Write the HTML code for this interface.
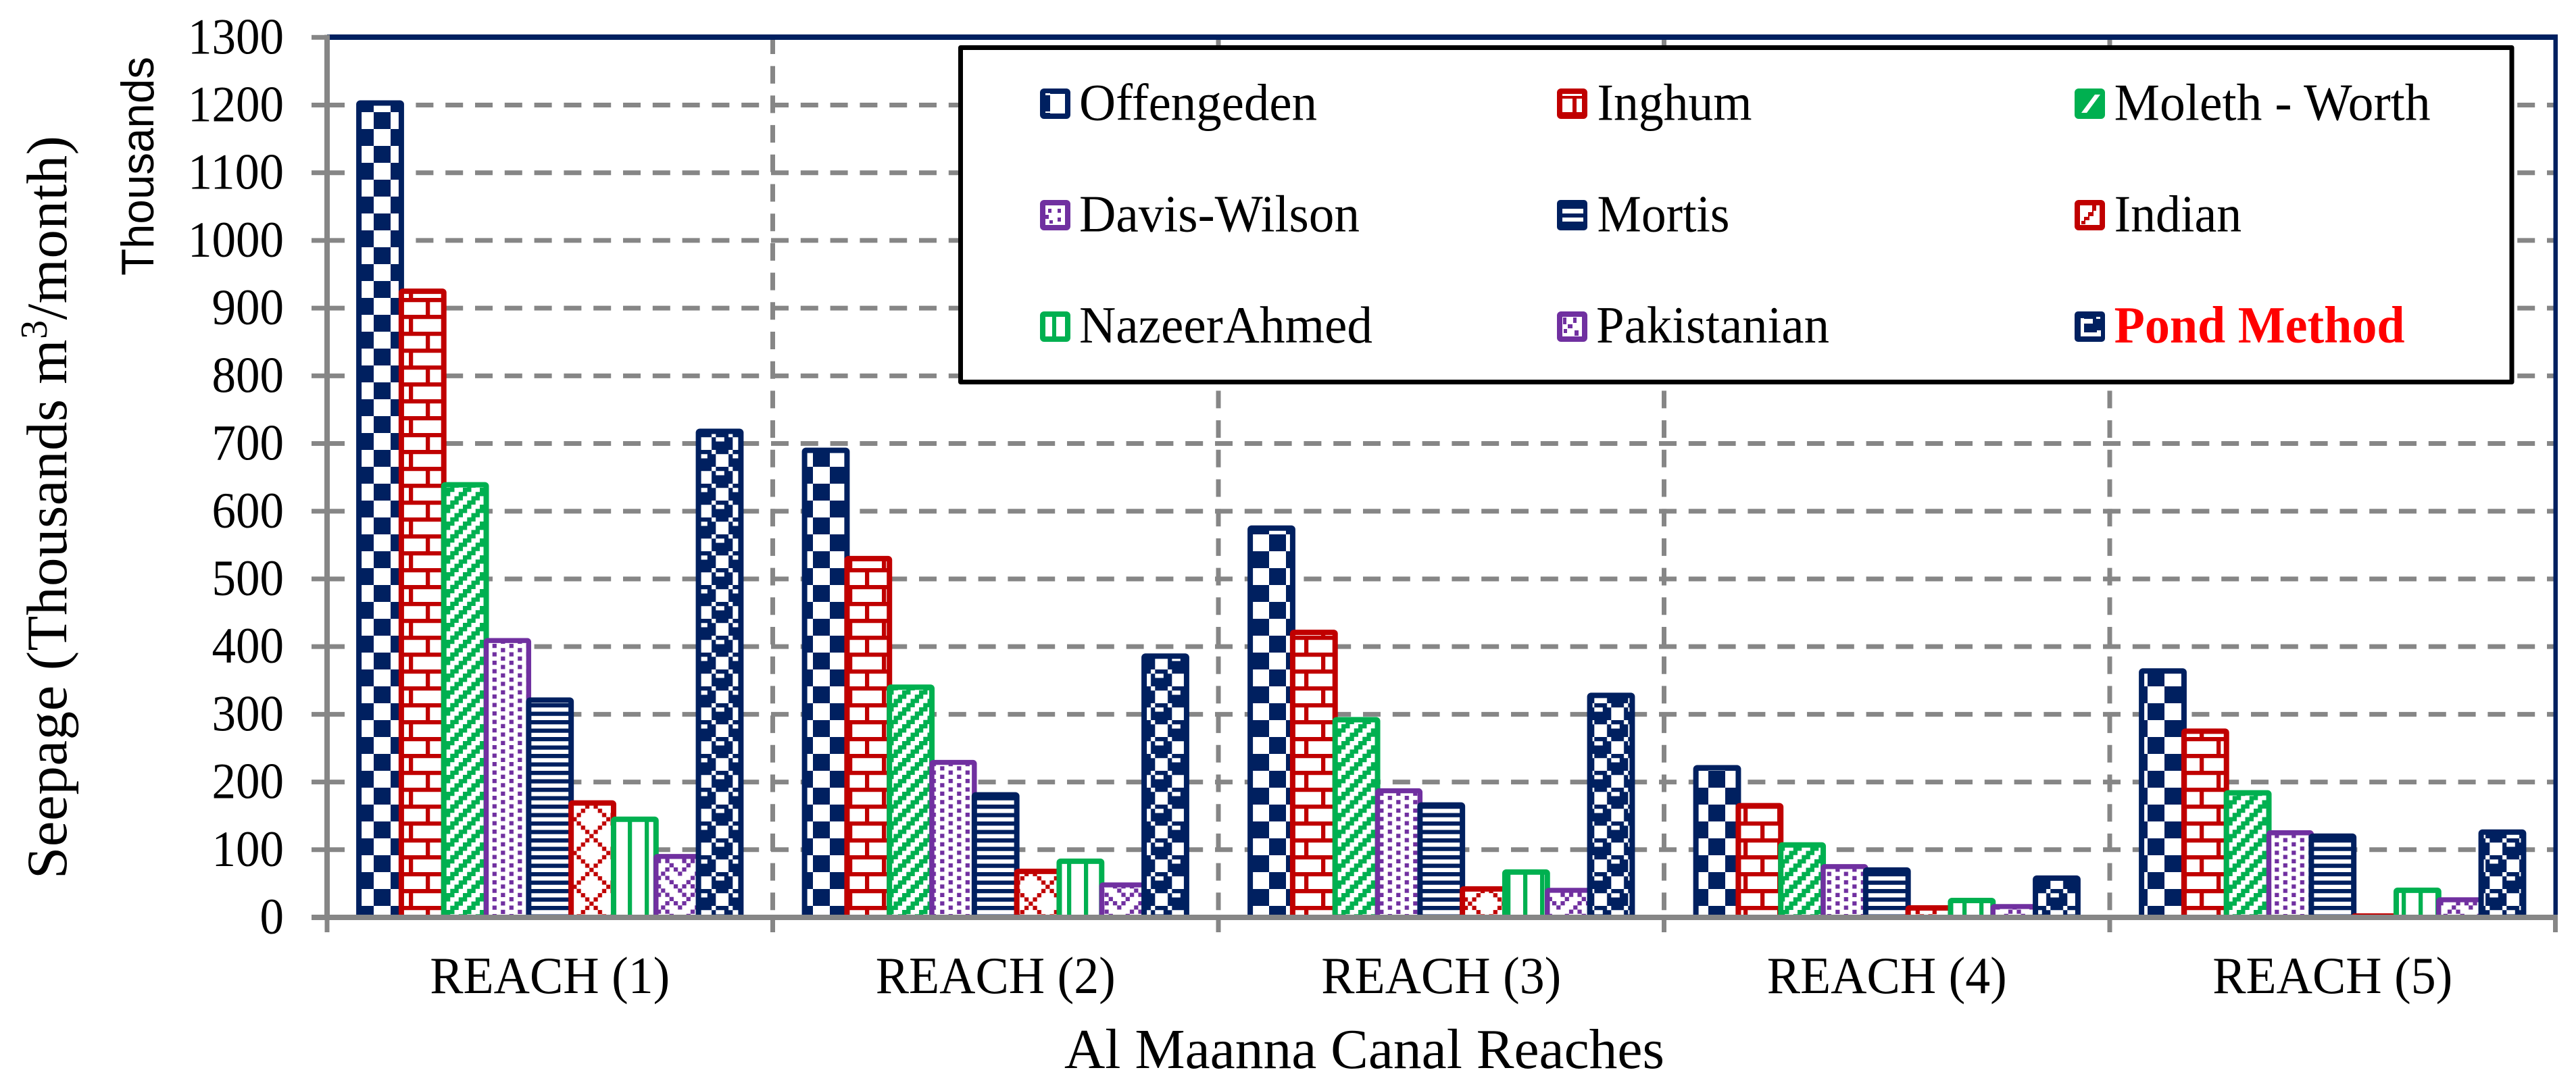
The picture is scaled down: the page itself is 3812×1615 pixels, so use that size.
<!DOCTYPE html>
<html lang="en">
<head>
<meta charset="utf-8">
<title>Seepage by Al Maanna Canal Reach</title>
<style>
html,body{margin:0;padding:0;background:#fff}
svg{display:block}
text{font-family:"Liberation Serif",serif;fill:#000}
</style>
</head>
<body>
<svg id="chart" xmlns="http://www.w3.org/2000/svg" width="3812" height="1615" viewBox="0 0 3812 1615">
  <defs id="defs"></defs>
  <rect x="0" y="0" width="3812" height="1615" fill="#fff"/>
  <g id="grid"></g>
  <rect x="484" y="51" width="3300.5" height="8" fill="#002060"/>
  <rect x="3778.5" y="51" width="6.5" height="1307" fill="#002060"/>
  <g id="bars"></g>
  <g id="axes"></g>
  <g id="labels"></g>
  <text x="1575" y="1581" font-size="83.5" textLength="888" lengthAdjust="spacingAndGlyphs">Al Maanna Canal Reaches</text>
  <text transform="translate(98,1301) rotate(-90)" font-size="85" textLength="1100" lengthAdjust="spacing">Seepage (Thousands m<tspan font-size="56" dy="-29">3</tspan><tspan dy="29">/month)</tspan></text>
  <text transform="translate(227,408) rotate(-90)" font-size="68" textLength="324" lengthAdjust="spacingAndGlyphs" style="font-family:'Liberation Sans',sans-serif">Thousands</text>

  <g>
    <rect x="1421.5" y="70.5" width="2295.5" height="495" fill="#fff" stroke="#000" stroke-width="7" stroke-linejoin="round"/>

    <g>
      <g transform="translate(1539,131)">
        <rect x="4" y="4" width="37" height="37" rx="2" fill="#fff" stroke="#002060" stroke-width="8"/>
        <rect x="8" y="8" width="7" height="29" fill="#002060"/>
        <rect x="8" y="7" width="7" height="3" fill="#fff"/>
        <rect x="8" y="34" width="7" height="2" fill="#fff"/>
      </g>
      <text x="1597" y="177.5" font-size="77" textLength="352" lengthAdjust="spacingAndGlyphs">Offengeden</text>
    </g>
    <g>
      <g transform="translate(2304,131)">
        <rect x="4" y="4" width="37" height="37" rx="2" fill="#fff" stroke="#c00000" stroke-width="8"/>
        <rect x="8" y="11" width="29" height="4" fill="#c00000"/>
        <rect x="23" y="15" width="6" height="20" fill="#c00000"/>
        <rect x="8" y="35" width="29" height="3" fill="#c00000"/>
      </g>
      <text x="2363.5" y="177.5" font-size="77" textLength="229" lengthAdjust="spacingAndGlyphs">Inghum</text>
    </g>
    <g>
      <g transform="translate(3070,131)">
        <rect x="4" y="4" width="37" height="37" rx="2" fill="#00b050" stroke="#00b050" stroke-width="8"/>
        <polygon points="10,36 18,36 38,9 30,9" fill="#fff"/>
      </g>
      <text x="3128.6" y="177.5" font-size="77" textLength="468" lengthAdjust="spacingAndGlyphs">Moleth - Worth</text>
    </g>

    <g>
      <g transform="translate(1539,296)">
        <rect x="4" y="4" width="37" height="37" rx="2" fill="#fff" stroke="#7030a0" stroke-width="8"/>
        <rect x="12" y="13" width="5" height="6" fill="#7030a0"/>
        <rect x="26" y="13" width="5" height="6" fill="#7030a0"/>
        <rect x="8" y="22" width="5" height="6" fill="#7030a0"/>
        <rect x="26" y="26" width="5" height="6" fill="#7030a0"/>
        <rect x="14" y="30" width="5" height="5" fill="#7030a0"/>
      </g>
      <text x="1597" y="342.5" font-size="77" textLength="415" lengthAdjust="spacingAndGlyphs">Davis-Wilson</text>
    </g>
    <g>
      <g transform="translate(2304,296)">
        <rect x="0" y="0" width="45" height="45" rx="5" fill="#002060"/>
        <rect x="8" y="13" width="31" height="7" fill="#fff"/>
        <rect x="8" y="26" width="31" height="6" fill="#fff"/>
      </g>
      <text x="2363.5" y="342.5" font-size="77" textLength="196" lengthAdjust="spacingAndGlyphs">Mortis</text>
    </g>
    <g>
      <g transform="translate(3070,296)">
        <rect x="4" y="4" width="37" height="37" rx="2" fill="#fff" stroke="#c00000" stroke-width="8"/>
        <polygon points="26,8 32,8 32,16 28,16 28,24 22,24 22,30 16,30 16,36 10,36 10,31 14,31 14,25 20,25 20,18 26,18" fill="#c00000"/>
      </g>
      <text x="3128.6" y="342.5" font-size="77" textLength="188.5" lengthAdjust="spacingAndGlyphs">Indian</text>
    </g>

    <g>
      <g transform="translate(1539,461)">
        <rect x="4" y="4" width="37" height="37" rx="2" fill="#fff" stroke="#00b050" stroke-width="8"/>
        <rect x="18" y="6" width="6" height="31" fill="#00b050"/>
      </g>
      <text x="1597" y="507" font-size="77" textLength="434" lengthAdjust="spacingAndGlyphs">NazeerAhmed</text>
    </g>
    <g>
      <g transform="translate(2304,461)">
        <rect x="4" y="4" width="37" height="37" rx="2" fill="#fff" stroke="#7030a0" stroke-width="8"/>
        <rect x="9" y="9" width="5" height="10" fill="#7030a0"/>
        <rect x="24" y="9" width="5" height="8" fill="#7030a0"/>
        <rect x="16" y="19" width="7" height="6" fill="#7030a0"/>
        <rect x="10" y="26" width="5" height="6" fill="#7030a0"/>
        <rect x="26" y="28" width="6" height="8" fill="#7030a0"/>
      </g>
      <text x="2362" y="507" font-size="77" textLength="345" lengthAdjust="spacingAndGlyphs">Pakistanian</text>
    </g>
    <g>
      <g transform="translate(3070,461)">
        <rect x="0" y="0" width="45" height="45" rx="5" fill="#002060"/>
        <rect x="14" y="11" width="13" height="7" fill="#fff"/>
        <rect x="9" y="10" width="5" height="27" fill="#fff"/>
        <rect x="9" y="31" width="30" height="6" fill="#fff"/>
        <rect x="33" y="28" width="6" height="9" fill="#fff"/>
        <rect x="32" y="8" width="6" height="3" fill="#fff"/>
      </g>
      <text x="3128.6" y="507" font-size="77" font-weight="bold" textLength="430" lengthAdjust="spacingAndGlyphs" style="fill:#ff0000">Pond Method</text>
    </g>
  </g>
</svg>

<script>
// ---- chart data (thousands of m3/month) ----
const categories = ["REACH (1)", "REACH (2)", "REACH (3)", "REACH (4)", "REACH (5)"];
const yTicks = [0, 100, 200, 300, 400, 500, 600, 700, 800, 900, 1000, 1100, 1200, 1300];
const offengeden = [1203, 690, 575, 221, 364];
const inghum = [925, 530, 421, 165, 275];
const molethWorth = [639, 340, 292, 107, 184];
const davisWilson = [409, 229, 187, 75, 125];
const mortis = [321, 181, 166, 70, 120];
const indian = [169, 68, 42, 14, 2];
const nazeerAhmed = [145, 83, 67, 25, 40];
const pakistanian = [90, 48, 40, 16, 26];
const pondMethod = [718, 386, 328, 58, 126];

const seriesNames = ["offengeden", "inghum", "moleth-worth", "davis-wilson", "mortis", "indian", "nazeerahmed", "pakistanian", "pond-method"];
const seriesValues = [offengeden, inghum, molethWorth, davisWilson, mortis, indian, nazeerAhmed, pakistanian, pondMethod];
const seriesColors = ["#002060", "#c00000", "#00b050", "#7030a0", "#002060", "#c00000", "#00b050", "#7030a0", "#002060"];

// ---- axis functions ----
const NS = "http://www.w3.org/2000/svg";
const PLOT_LEFT = 484, PLOT_BOTTOM = 1358, CAT_W = 659.5, PX_PER_UNIT = 1.00208, GAP_BARS = 1.5;
const barPitch = CAT_W / (seriesValues.length + GAP_BARS);
function yScale(v) { return PLOT_BOTTOM - v * PX_PER_UNIT; }
function catLeft(c) { return PLOT_LEFT + c * CAT_W; }
function barLeft(c, s) { return catLeft(c) + barPitch * (GAP_BARS / 2 + s); }

function mk(tag, attrs, parent) {
  const el = document.createElementNS(NS, tag);
  for (const k in attrs) el.setAttribute(k, attrs[k]);
  parent.appendChild(el);
  return el;
}

// ---- hatch patterns, anchored to the page as in the source image ----
const defs = document.getElementById("defs");
const UNIT = 6.25;
function pattern(id, x, y, w, h, color, bitmap, extras) {
  const p = mk("pattern", { id: id, patternUnits: "userSpaceOnUse", x: x, y: y, width: w, height: h }, defs);
  mk("rect", { x: 0, y: 0, width: w, height: h, fill: "#fff" }, p);
  let d = "";
  if (bitmap) {
    bitmap.forEach(function (row, r) {
      let c = 0;
      while (c < row.length) {
        if (row[c] === "1") {
          let e = c;
          while (e < row.length && row[e] === "1") e++;
          d += "M" + (c * UNIT) + " " + (r * UNIT) + "h" + ((e - c) * UNIT) + "v" + UNIT + "h" + (-(e - c) * UNIT) + "z";
          c = e;
        } else c++;
      }
    });
  }
  if (extras) d += extras;
  mk("path", { d: d, fill: color }, p);
}
pattern("p0", 3, 16, 50, 50, "#002060", null, "M0 0h25v25h-25zM25 25h25v25h-25z");
pattern("p1", 0, 0, 50, 50, "#c00000", null,
  "M0 16h50v6.25h-50zM0 41h50v6.25h-50zM5 22h6.25v19h-6.25zM30 47h6.25v3h-6.25zM30 0h6.25v16h-6.25z");
pattern("p2", 10, 22, 25, 25, "#00b050", ["1100", "1001", "0011", "0110"]);
pattern("p3", 3.7, 3, 25, 25, "#7030a0", ["1000", "0010", "1000", "0010"]);
pattern("p4", 0, 3.5, 12.5, 12.5, "#002060", ["11", "00"]);
pattern("p5", 22.2, 34.6, 50, 50, "#c00000",
  ["10000000", "01000001", "00100010", "00010100", "00001000", "00010100", "00100010", "01000001"]);
pattern("p6", 4, 0, 25, 25, "#00b050", null, "M0 0h6.25v25h-6.25z");
pattern("p7", 21.9, 21.5, 50, 50, "#7030a0",
  ["10100010", "00010001", "00101010", "01000100", "10100000", "00010001", "10001010", "01000100"]);
pattern("p8", 34.3, 16, 50, 50, "#002060",
  ["11101110", "00110001", "11110001", "11110001", "11101110", "00010011", "00011111", "00011111"]);

// ---- gridlines ----
const grid = document.getElementById("grid");
yTicks.forEach(function (t) {
  if (t === 0) return;
  const line = mk("line", { x1: PLOT_LEFT, x2: 3779, y1: yScale(t), y2: yScale(t), stroke: "#868686", "stroke-width": 7, "stroke-dasharray": "26 17.8" }, grid);
  
  
});
categories.forEach(function (name, c) {
  if (c === 0) return;
  const line = mk("line", { x1: catLeft(c), x2: catLeft(c), y1: 54, y2: PLOT_BOTTOM, stroke: "#868686", "stroke-width": 7, "stroke-dasharray": "26 17.7" }, grid);
  
  
});

// ---- bars ----
const barsG = document.getElementById("bars");
categories.forEach(function (name, c) {
  seriesValues.forEach(function (vals, s) {
    const top = yScale(vals[c]);
    const bar = mk("rect", {
      x: barLeft(c, s), y: top, width: barPitch, height: PLOT_BOTTOM - top, rx: 2,
      fill: "url(#p" + s + ")", stroke: seriesColors[s], "stroke-width": s === 3 || s === 7 ? 7.4 : 8, "stroke-linejoin": "round"
    }, barsG);
    
    
  });
});

// ---- axes ----
const axes = document.getElementById("axes");
const yAxisLine = mk("rect", { x: 480, y: 51.5, width: 8, height: 1310, fill: "#868686" }, axes);


const xAxisLine = mk("rect", { x: 461, y: 1354, width: 3324, height: 8, fill: "#868686" }, axes);


yTicks.forEach(function (t) {
  const tick = mk("rect", { x: 461, y: yScale(t) - 3.5, width: 23, height: 7, fill: "#868686" }, axes);
  
  
});
for (let c = 0; c <= categories.length; c++) {
  const tick = mk("rect", { x: catLeft(c) - 3.5, y: 1358, width: 7, height: 22, fill: "#868686" }, axes);
  
  
}

// ---- tick labels ----
const labels = document.getElementById("labels");
yTicks.forEach(function (t) {
  const s = String(t);
  const label = mk("text", { x: 420, y: yScale(t) + 24, "font-size": 75, "text-anchor": "end", textLength: s.length * 35.5, lengthAdjust: "spacingAndGlyphs" }, labels);
  label.textContent = s;
  
  
});
categories.forEach(function (name, c) {
  const label = mk("text", { x: catLeft(c) + CAT_W / 2, y: 1470, "font-size": 77, "text-anchor": "middle", textLength: 355, lengthAdjust: "spacingAndGlyphs" }, labels);
  label.textContent = name;
  
  
});
</script>
</body>
</html>
